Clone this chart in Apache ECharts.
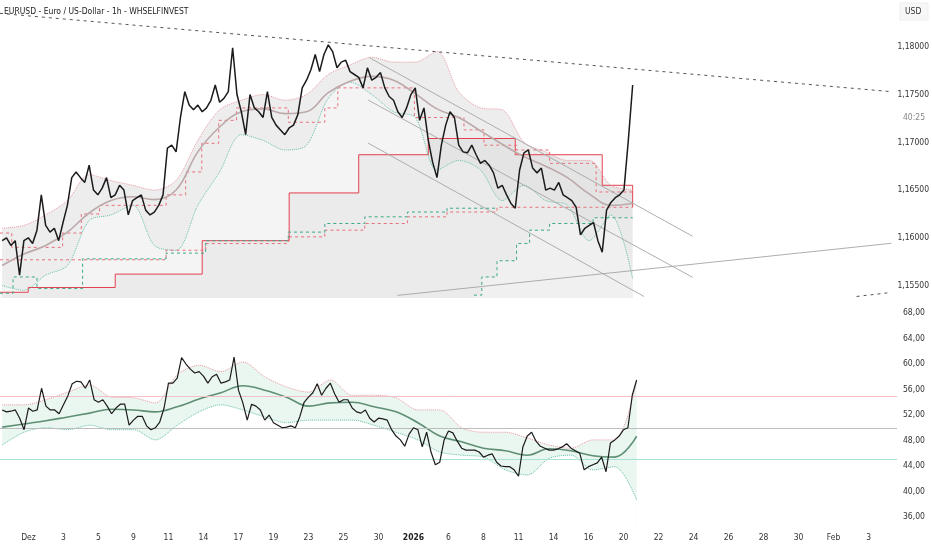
<!DOCTYPE html>
<html>
<head>
<meta charset="utf-8">
<script src="https://cdn.jsdelivr.net/npm/echarts@6/dist/echarts.min.js"></script>
<style>
  html, body { margin: 0; padding: 0; background: #fff; }
  #main { width: 932px; height: 550px; }
</style>
</head>
<body>
<div id="main"></div>
<script>
// one slot = 4 hours (6 slots per session), slot 0 = first bar on the left
var closes = [
  1.1597,1.1600,1.1592,1.1597,1.1561,1.1597,1.1600,1.1594,1.1608,1.1645,
  1.1613,1.1606,1.1610,1.1597,1.1616,1.1634,1.1663,1.1669,1.1663,1.1658,
  1.1676,1.1650,1.1645,1.1652,1.1663,1.1642,1.1645,1.1655,1.1650,1.1624,
  1.1639,1.1642,1.1645,1.1629,1.1624,1.1627,1.1634,1.1645,1.1694,1.1697,
  1.1690,1.1726,1.1753,1.1739,1.1734,1.1739,1.1732,1.1736,1.1744,1.1760,
  1.1742,1.1746,1.1753,1.1799,1.1750,1.1732,1.1708,1.1750,1.1736,1.1732,
  1.1726,1.1753,1.1726,1.1718,1.1713,1.1708,1.1715,1.1718,1.1729,1.1757,
  1.1765,1.1776,1.1792,1.1774,1.1792,1.1802,1.1795,1.1778,1.1784,1.1786,
  1.1774,1.1771,1.1768,1.1757,1.1778,1.1765,1.1768,1.1773,1.1757,1.1748,
  1.1744,1.1732,1.1726,1.1736,1.1750,1.1757,1.1723,1.1736,1.1702,1.1679,
  1.1663,1.1697,1.1718,1.1732,1.1726,1.1697,1.1690,1.1689,1.1697,1.1687,
  1.1678,1.1681,1.1676,1.1668,1.1652,1.1655,1.1645,1.1636,1.1631,1.1671,
  1.1689,1.1692,1.1673,1.1668,1.1673,1.1650,1.1652,1.1650,1.1658,1.1645,
  1.1642,1.1639,1.1632,1.1603,1.1610,1.1613,1.1616,1.1597,1.1585,1.1629,
  1.1637,1.1642,1.1645,1.1650,1.1702,1.1760
];

var rsi = [
  52.8,52.5,52.6,52.8,51.5,49.7,53.1,52.6,52.8,56.2,
  53.4,52.8,52.8,52.2,53.6,55.0,56.9,57.3,57.2,56.2,
  57.5,54.4,54.0,54.4,53.4,52.2,53.1,53.7,53.7,50.4,
  51.2,51.8,51.8,50.3,49.7,50.0,50.9,53.1,57.0,57.0,
  57.8,61.0,60.0,59.2,58.6,58.8,58.1,57.0,58.0,58.4,
  57.0,57.2,57.5,61.1,55.9,53.9,51.2,53.7,53.4,52.8,
  51.2,52.0,50.8,50.4,50.0,50.1,50.3,50.0,51.7,54.0,
  54.8,55.5,56.9,55.1,56.2,57.0,55.3,54.0,54.4,54.4,
  53.1,52.5,52.3,52.8,51.5,50.9,51.5,51.4,51.2,49.7,
  48.7,48.1,47.1,49.0,50.0,49.7,47.0,49.3,46.2,44.2,
  44.6,48.1,49.5,49.2,47.9,46.8,46.5,46.5,46.5,46.2,
  45.4,45.7,45.9,44.6,44.0,43.9,43.9,43.4,42.4,47.0,
  48.7,49.3,47.9,47.1,46.8,46.5,46.5,46.7,47.0,47.5,
  46.8,46.4,46.0,43.4,43.9,44.2,44.5,45.4,43.1,47.6,
  48.1,48.7,49.7,50.0,55.1,57.5
];

// smoother studies, sampled every 5 slots
var sampleStep = 5;
var priceMA = [1.1571,1.1583,1.1592,1.1606,1.1626,1.1639,1.1643,1.1640,1.1650,1.1690,
  1.1716,1.1732,1.1735,1.1730,1.1732,1.1752,1.1764,1.1769,1.1765,1.1751,
  1.1735,1.1726,1.1712,1.1698,1.1685,1.1675,1.1663,1.1646,1.1634,1.1636];
var bandUp = [1.1610,1.1613,1.1624,1.1639,1.1666,1.1660,1.1655,1.1650,1.1660,1.1702,
  1.1734,1.1744,1.1750,1.1744,1.1750,1.1771,1.1781,1.1789,1.1784,1.1784,
  1.1795,1.1753,1.1736,1.1734,1.1700,1.1690,1.1681,1.1681,1.1655,1.1650];
var bandDn = [1.1550,1.1545,1.1561,1.1571,1.1618,1.1624,1.1634,1.1592,1.1587,1.1634,
  1.1669,1.1708,1.1702,1.1692,1.1697,1.1746,1.1763,1.1750,1.1732,1.1726,
  1.1671,1.1681,1.1671,1.1639,1.1655,1.1639,1.1634,1.1597,1.1624,1.1557];
var rsiMA = [50.1,50.6,51.1,51.7,52.3,52.9,52.8,52.5,53.3,54.5,55.5,56.6,55.9,54.8,53.4,
  53.9,54.0,53.3,52.5,50.8,48.7,47.8,46.8,46.4,45.7,46.7,46.4,45.6,45.4,48.7];
var rsiUp = [53.6,53.6,54.4,55.6,56.7,54.8,54.7,53.9,58.3,59.8,58.8,60.3,58.0,56.4,55.6,
  57.5,55.1,55.1,54.7,52.8,52.8,50.0,49.3,49.3,48.4,47.3,46.8,48.1,48.1,57.5];
var rsiDn = [47.3,49.3,50.0,49.7,50.4,49.7,49.7,48.1,50.4,52.5,53.6,52.8,51.7,50.8,51.2,
  51.2,51.2,50.4,49.3,48.1,46.2,45.7,45.4,43.4,42.6,45.2,45.7,43.4,43.9,38.7];

// step levels: start slot of each level and its value
var levelFrom = [-0.5, 6, 26, 46, 66, 82, 98, 118, 138];
var levelVal  = [1.1543, 1.1548, 1.1562, 1.1597, 1.1647, 1.1687, 1.1704, 1.1687, 1.1655];
var levelTail = 1.1632;
var trailFrom = [-0.5, 2.2, 13.9, 18.2, 22.4, 37.7, 42.2, 45.9, 49.8, 53.9, 65.8, 74.2, 77.2, 94.8, 106.2, 110.8, 118.3, 125.9, 136.6];
var trailVal  = [1.1605,1.1590,1.1605,1.1625,1.1634,1.1645,1.1669,1.1699,1.1723,1.1736,1.1721,1.1736,1.1757,1.1726,1.1713,1.1697,1.1692,1.1678,1.1648];
var lowRedFrom = [-0.5, 37.7, 46.8, 65.8, 74.2, 83.4, 93.2, 102.3, 113.8];
var lowRedVal  = [1.1577,1.1587,1.1594,1.1601,1.1608,1.1615,1.1622,1.1627,1.1632];
var lowGreenFrom = [-0.5, 2.5, 8, 18.5, 37.7, 46.8, 65.8, 74.2, 83.4, 93.2, 102.3];
var lowGreenVal  = [1.1542,1.1559,1.1547,1.1578,1.1584,1.1597,1.1606,1.1615,1.1622,1.1627,1.1631];
var riseGreenFrom = [108.5, 110.3, 113.8, 118.3, 121.3, 125.9, 135.9];
var riseGreenVal  = [1.1540,1.1559,1.1576,1.1594,1.1608,1.1615,1.1621];
var lastSlot = 145;

// drawn trend lines: [slot1, price1, slot2, price2]
var resistance = [-0.5, 1.1835, 204.5, 1.1753];
var channel = [
  [84.5, 1.17885, 158.8, 1.16016],
  [84.1, 1.17444, 158.8, 1.15586],
  [84.1, 1.16993, 147.6, 1.15386]
];
var support = [90.9, 1.15397, 204.5, 1.15943];
var lowerDashed = [196.5, 1.15386, 204.5, 1.15428];

var rsiLevels = [55, 50, 45];
var priceTicks = [1.155, 1.16, 1.165, 1.17, 1.175, 1.18];
var rsiTicks = [36, 40, 44, 48, 52, 56, 60, 64, 68];
var dayLabels = ['Dez','3','5','9','11','14','17','19','23','25','30','2026','6','8','11','14','16','20','22','24','26','28','30','Feb','3'];
var labelSlots = dayLabels.map(function (d, i) { return 6 + i * 8; });

function pairs(vals) { return vals.map(function (v, i) { return [i, v]; }); }
function sparse(vals) { return vals.map(function (v, i) { return [i * sampleStep, v]; }); }
function steps(from, vals, end) {
  var out = [];
  for (var i = 0; i < from.length; i++) {
    out.push([from[i], vals[i]]);
    out.push([i < from.length - 1 ? from[i + 1] : end, vals[i]]);
  }
  return out;
}
function seg(l) { return [[l[0], l[1]], [l[2], l[3]]]; }

var narrow = "'Liberation Sans Narrow','DejaVu Sans Condensed','Liberation Sans',sans-serif";

var levelData = steps(levelFrom, levelVal, lastSlot);
levelData.push([lastSlot, levelTail]);

function line(name, data, color, opts) {
  var s = {
    name: name, type: 'line', data: data, xAxisIndex: 0, yAxisIndex: 0,
    symbol: 'none', silent: true,
    lineStyle: { color: color, width: 1 }
  };
  for (var k in opts) s[k] = opts[k];
  return s;
}

var series = [
  // fills
  line('bandUpFill', sparse(bandUp), 'transparent', { smooth: 0.3, areaStyle: { color: '#ededed', origin: 'start', opacity: 1 }, z: 1 }),
  line('bandDnFill', sparse(bandDn), 'transparent', { smooth: 0.3, areaStyle: { color: '#f4f4f4', origin: 'start', opacity: 1 }, z: 1 }),
  line('levels', levelData, '#e3414f', { areaStyle: { color: 'rgba(0,0,0,0.05)', origin: 'start' }, z: 3 }),
  line('bandUp', sparse(bandUp), '#ec9aa3', { smooth: 0.3, lineStyle: { color: '#ec9aa3', width: 1, type: 'dotted' }, z: 3 }),
  line('bandDn', sparse(bandDn), '#66c2a9', { smooth: 0.3, lineStyle: { color: '#66c2a9', width: 1, type: 'dotted' }, z: 3 }),
  line('trail', steps(trailFrom, trailVal, lastSlot), '#e8707c', { lineStyle: { color: '#e8707c', width: 1, type: [3, 3] }, z: 3 }),
  line('lowRed', steps(lowRedFrom, lowRedVal, lastSlot), '#e8707c', { lineStyle: { color: '#e8707c', width: 1, type: [3, 3] }, z: 3 }),
  line('lowGreen', steps(lowGreenFrom, lowGreenVal, 113.8), '#3aa887', { lineStyle: { color: '#3aa887', width: 1, type: [3, 3] }, z: 3 }),
  line('riseGreen', steps(riseGreenFrom, riseGreenVal, lastSlot), '#3aa887', { lineStyle: { color: '#3aa887', width: 1, type: [3, 3] }, areaStyle: { color: 'rgba(255,255,255,0.35)', origin: 'start' }, z: 3 }),
  line('ma', sparse(priceMA), '#bca9a9', { smooth: 0.4, lineStyle: { color: '#bca9a9', width: 1.6 }, z: 4 }),
  line('resistance', seg(resistance), '#555', { lineStyle: { color: '#555', width: 1, type: [3, 4] }, z: 5 }),
  line('lowerDashed', seg(lowerDashed), '#555', { lineStyle: { color: '#555', width: 1, type: [3, 4] }, z: 5 }),
  line('support', seg(support), '#a5a5a5', { lineStyle: { color: '#a5a5a5', width: 0.9 }, z: 5 })
];
channel.forEach(function (c, i) {
  series.push(line('channel' + i, seg(c), '#a5a5a5', { lineStyle: { color: '#a5a5a5', width: 0.9 }, z: 5 }));
});
series.push(line('price', pairs(closes), '#1b1b1b', { lineStyle: { color: '#1b1b1b', width: 1.5 }, z: 6 }));

// RSI pane
function rline(name, data, opts) {
  var s = line(name, data, '#000', opts);
  s.xAxisIndex = 1; s.yAxisIndex = 1;
  return s;
}
var levelColors = ['#f2c0c6', '#bdbdbd', '#a9e2d5'];
series.push(rline('rsiUpFill', sparse(rsiUp), { smooth: 0.3, lineStyle: { width: 0 }, areaStyle: { color: '#eaf6f0', origin: 'start', opacity: 1 }, z: 1 }));
series.push(rline('rsiDnFill', sparse(rsiDn), { smooth: 0.3, lineStyle: { width: 0 }, areaStyle: { color: '#ffffff', origin: 'start', opacity: 1 }, z: 1 }));
series.push(rline('rsiLevels', [], {
  z: 2,
  markLine: {
    symbol: 'none', silent: true, label: { show: false },
    data: rsiLevels.map(function (v, i) { return { yAxis: v, lineStyle: { color: levelColors[i], width: 1, type: 'solid' } }; })
  }
}));
series.push(rline('rsiUp', sparse(rsiUp), { smooth: 0.3, lineStyle: { color: '#ec9aa3', width: 1, type: 'dotted' }, z: 3 }));
series.push(rline('rsiDn', sparse(rsiDn), { smooth: 0.3, lineStyle: { color: '#66c2a9', width: 1, type: 'dotted' }, z: 3 }));
series.push(rline('rsiMA', sparse(rsiMA), { smooth: 0.4, lineStyle: { color: '#5e8f74', width: 1.6 }, z: 4 }));
series.push(rline('rsi', pairs(rsi), { lineStyle: { color: '#1b1b1b', width: 1.2 }, z: 5 }));

var myChart = echarts.init(document.getElementById('main'));
option = {
  animation: false,
  backgroundColor: '#ffffff',
  grid: [
    { left: 0, top: 0, width: 897, height: 298 },
    { left: 0, top: 302, width: 897, height: 223 }
  ],
  xAxis: [
    { gridIndex: 0, type: 'value', min: -0.5, max: 204.5, show: false },
    {
      gridIndex: 1, type: 'value', min: -0.5, max: 204.5,
      axisLine: { show: false }, axisTick: { show: false }, splitLine: { show: false },
      axisLabel: {
        customValues: labelSlots, margin: 8, fontSize: 8.5, color: '#333', fontFamily: narrow,
        formatter: function (v) {
          var t = dayLabels[Math.round((v - 6) / 8)];
          return t === '2026' ? '{b|' + t + '}' : t;
        },
        rich: { b: { fontWeight: 'bold', fontSize: 8.5, color: '#222', fontFamily: narrow } }
      }
    }
  ],
  yAxis: [
    {
      gridIndex: 0, type: 'value', position: 'right', min: 1.1537, max: 1.1849,
      axisLine: { show: false }, axisTick: { show: false }, splitLine: { show: false },
      axisLabel: {
        customValues: priceTicks, margin: 6, fontSize: 8.5, color: '#333', fontFamily: narrow,
        formatter: function (v) { return v.toFixed(5).replace('.', ','); }
      }
    },
    {
      gridIndex: 1, type: 'value', position: 'right', min: 34.75, max: 69.73,
      axisLine: { show: false }, axisTick: { show: false }, splitLine: { show: false },
      axisLabel: {
        customValues: rsiTicks, margin: 6, fontSize: 8.5, color: '#333', fontFamily: narrow,
        formatter: function (v) { return v.toFixed(2).replace('.', ','); }
      }
    }
  ],
  graphic: [
    { type: 'text', left: 4, top: 7, style: { text: 'EURUSD - Euro / US-Dollar - 1h - WHSELFINVEST', fontSize: 8.5, fill: '#222', fontFamily: narrow } },
    { type: 'rect', shape: { x: 900, y: 3, width: 28, height: 17 }, style: { fill: '#f7f7f7', stroke: '#eeeeee' } },
    { type: 'text', left: 905, top: 7, style: { text: 'USD', fontSize: 8.5, fill: '#333', fontFamily: narrow } },
    { type: 'text', left: 903, top: 113, style: { text: '40:25', fontSize: 8.5, fill: '#888', fontFamily: narrow } }
  ],
  series: series
};
myChart.setOption(option);
</script>
</body>
</html>
